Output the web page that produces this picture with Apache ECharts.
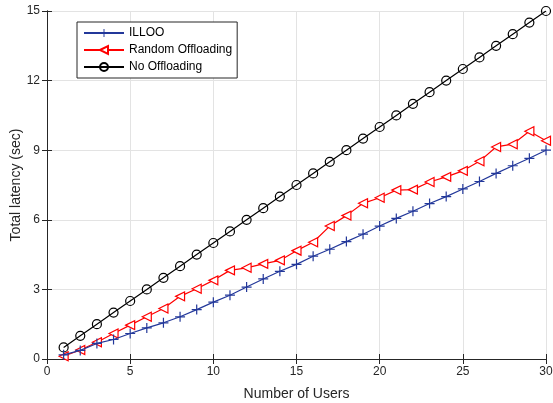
<!DOCTYPE html>
<html>
<head>
<meta charset="utf-8">
<script src="https://cdn.jsdelivr.net/npm/echarts@6/dist/echarts.min.js"></script>
<style>
  html, body { margin: 0; padding: 0; background: #fff; }
  #chart { width: 553px; height: 403px; }
</style>
</head>
<body>
<div id="chart"></div>
<script>
// Number of users on the x axis
const users = [1,2,3,4,5,6,7,8,9,10,11,12,13,14,15,16,17,18,19,20,21,22,23,24,25,26,27,28,29,30];

// Total latency (sec) for each scheme
const illoo = [0.18,0.37,0.67,0.84,1.1,1.34,1.56,1.82,2.13,2.45,2.75,3.1,3.45,3.78,4.08,
               4.43,4.73,5.06,5.38,5.73,6.06,6.37,6.7,7.0,7.33,7.65,8.0,8.33,8.65,9.0];
const randomOffloading = [0.12,0.39,0.72,1.1,1.46,1.82,2.18,2.7,3.03,3.39,3.82,3.93,4.1,4.25,4.67,
                          5.03,5.73,6.18,6.71,6.95,7.28,7.3,7.63,7.85,8.11,8.52,9.14,9.26,9.82,9.41];
const noOffloading = [0.5,1,1.5,2,2.5,3,3.5,4,4.5,5,5.5,6,6.5,7,7.5,
                      8,8.5,9,9.5,10,10.5,11,11.5,12,12.5,13,13.5,14,14.5,15];

const xTicks = [0,5,10,15,20,25,30];
const yTicks = [0,3,6,9,12,15];

const pair = (ys) => users.map((u, i) => [u, ys[i]]);

const font = 'Liberation Sans, Arial, Helvetica, sans-serif';
const plusPath = 'path://M0,4.4H10V5.6H0Z M4.4,0H5.6V10H4.4Z';

const chart = echarts.init(document.getElementById('chart'), null, { renderer: 'canvas' });

const axisCommon = {
  axisLine: { show: true, lineStyle: { color: '#262626', width: 1 } },
  axisTick: { show: true, inside: true, length: 5, lineStyle: { color: '#262626' } },
};

chart.setOption({
  animation: false,
  backgroundColor: '#fff',
  grid: { left: 47, right: 7, top: 11, bottom: 44, show: false,
          containLabel: false, outerBoundsMode: 'none' },
  legend: {
    left: 77, top: 22,
    orient: 'vertical',
    backgroundColor: '#fff',
    borderColor: '#262626',
    borderWidth: 1,
    padding: [5, 5, 5, 6],
    itemGap: 5,
    itemWidth: 40,
    itemHeight: 10,
    textStyle: { fontFamily: font, fontSize: 12, color: '#000' },
    data: ['ILLOO', 'Random Offloading', 'No Offloading']
  },
  xAxis: [{
    type: 'value', min: 0, max: 30, interval: 5,
    name: 'Number of Users', nameLocation: 'middle', nameGap: 28, nameMoveOverlap: false,
    nameTextStyle: { fontFamily: font, fontSize: 14, color: '#262626' },
    axisLabel: { fontFamily: font, fontSize: 12, color: '#262626', margin: 7,
                 formatter: v => xTicks.includes(v) ? String(v) : '' },
    splitLine: { show: true, lineStyle: { color: '#e3e3e3', width: 1 } },
    ...axisCommon
  }, {
    type: 'value', min: 0, max: 30, interval: 5, position: 'top',
    axisLabel: { show: false }, splitLine: { show: false },
    ...axisCommon
  }],
  yAxis: [{
    type: 'value', min: 0, max: 15, interval: 3,
    name: 'Total latency (sec)', nameLocation: 'middle', nameGap: 24, nameMoveOverlap: false,
    nameTextStyle: { fontFamily: font, fontSize: 14, color: '#262626' },
    axisLabel: { fontFamily: font, fontSize: 12, color: '#262626', margin: 7,
                 formatter: v => yTicks.includes(v) ? String(v) : '' },
    splitLine: { show: true, lineStyle: { color: '#e3e3e3', width: 1 } },
    ...axisCommon
  }, {
    type: 'value', min: 0, max: 15, interval: 3, position: 'right',
    axisLabel: { show: false }, splitLine: { show: false },
    ...axisCommon
  }],
  series: [{
    name: 'ILLOO', type: 'line', data: pair(illoo),
    symbol: plusPath, symbolSize: 10, showAllSymbol: true,
    lineStyle: { color: '#23389a', width: 1.2 },
    itemStyle: { color: '#23389a' },
    z: 4
  }, {
    name: 'Random Offloading', type: 'line', data: pair(randomOffloading),
    symbol: 'triangle', symbolSize: 9, symbolRotate: 90, showAllSymbol: true,
    lineStyle: { color: '#ff0000', width: 1.2 },
    itemStyle: { color: '#fff', borderColor: '#ff0000', borderWidth: 1.2 },
    z: 3
  }, {
    name: 'No Offloading', type: 'line', data: pair(noOffloading),
    symbol: 'circle', symbolSize: 9, showAllSymbol: true,
    lineStyle: { color: '#000', width: 1.2 },
    itemStyle: { color: 'rgba(0,0,0,0)', borderColor: '#000', borderWidth: 1.2 },
    z: 2
  }]
});
</script>
</body>
</html>
